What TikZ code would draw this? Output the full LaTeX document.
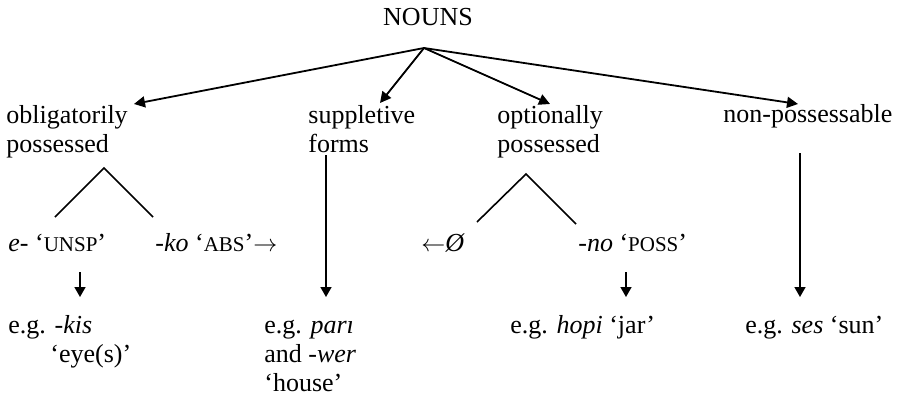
\documentclass[tikz,border=0pt]{standalone}
\usepackage{fontspec}
\setmainfont{Liberation Serif}
\usetikzlibrary{arrows.meta}
\newcommand{\glab}[1]{{\fontsize{10.5}{12}\selectfont #1}}

\begin{document}
\begin{tikzpicture}[
  x=0.5pt, y=-0.5pt,
  word/.style={inner sep=0pt, anchor=base west, align=left, font=\fontsize{13}{14.5}\selectfont},
  link/.style={-{Triangle[length=5.5pt, width=5.5pt]}, line width=0.9pt},
  drop/.style={-{Triangle[length=5pt, width=5.5pt]}, line width=0.8pt},
  branch/.style={line width=0.8pt}
]
  \useasboundingbox (0,0) rectangle (902,402);

  % Top node
  \node[word, anchor=base] (nouns) at (428,25) {NOUNS};
  \coordinate (top) at (424,48);

  % Classes (base = last line)
  \node[word] (obl) at (6,152) {obligatorily\\possessed};
  \node[word] (supp) at (308,152) {suppletive\\forms};
  \node[word] (opt) at (497,152) {optionally\\possessed};
  \node[word] (nonp) at (723,122) {non-possessable};

  \coordinate (obltip) at (134,104);
  \coordinate (supptip) at (380,103);
  \coordinate (opttip) at (550,104);
  \coordinate (nonptip) at (798,104);

  \draw[link] (top) -- (obltip);
  \draw[link] (top) -- (supptip);
  \draw[link] (top) -- (opttip);
  \draw[link] (top) -- (nonptip);

  % Affixes
  \node[word] (unsp) at (8,251) {\textit{e}- `\glab{UNSP}'};
  \node[word] (abs) at (155,251) {\textit{-ko} `\glab{ABS}'$\rightarrow$};
  \node[word] (zero) at (421,251) {$\leftarrow$\textit{Ø}};
  \node[word] (poss) at (578,251) {\textit{-no} `\glab{POSS}'};

  \coordinate (oblfork) at (104,168);
  \coordinate (unspend) at (55,217);
  \coordinate (absend) at (153,217);
  \coordinate (optfork) at (526,174);
  \coordinate (zeroend) at (477,222);
  \coordinate (possend) at (576,224);

  \draw[branch] (unspend) -- (oblfork) -- (absend);
  \draw[branch] (zeroend) -- (optfork) -- (possend);

  % Examples
  \node[word] (kis) at (8,362) {e.g. \textit{-kis}\\\hspace*{21pt}`eye(s)'};
  \node[word] (pari) at (264,391) {e.g. \textit{par\i}\\and \textit{-wer}\\`house'};
  \node[word] (hopi) at (510,333) {e.g. \textit{hopi} `jar'};
  \node[word] (ses) at (745,333) {e.g. \textit{ses} `sun'};

  \coordinate (unspdrop) at (80,272);
  \coordinate (kisdrop) at (80,297);
  \coordinate (suppdrop) at (326,155);
  \coordinate (paridrop) at (326,297);
  \coordinate (possdrop) at (626,272);
  \coordinate (hopidrop) at (626,297);
  \coordinate (nonpdrop) at (800,153);
  \coordinate (sesdrop) at (800,297);

  \draw[drop] (unspdrop) -- (kisdrop);
  \draw[drop] (suppdrop) -- (paridrop);
  \draw[drop] (possdrop) -- (hopidrop);
  \draw[drop] (nonpdrop) -- (sesdrop);
\end{tikzpicture}
\end{document}
